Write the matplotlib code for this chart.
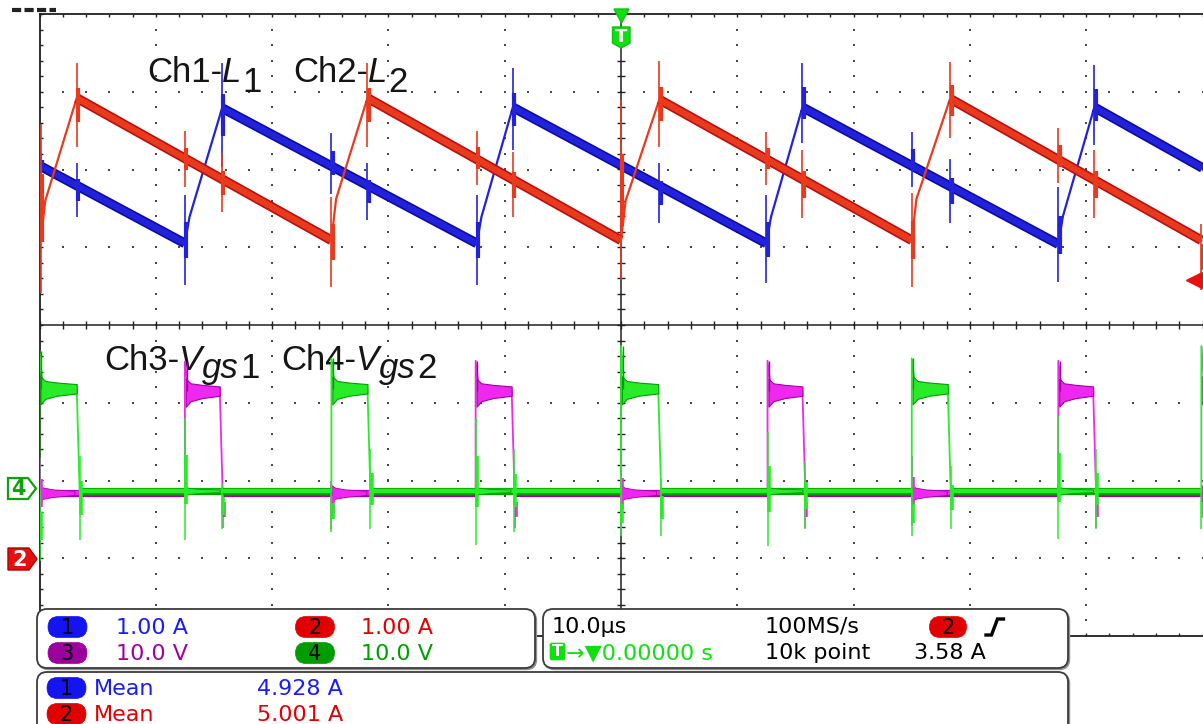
import numpy as np
import matplotlib
matplotlib.use("Agg")
import matplotlib.pyplot as plt
from matplotlib.patches import FancyBboxPatch, Polygon

# ---------------- data ----------------
# time base: 10 us/div, 10 divisions, trigger (t = 0) at screen centre
# Ch1 : inductor L1 current (A), 1.00 A/div
ch1_start = (-50.0, 5.05)
ch1_end = (50.0, 5.02)
ch1_valley_t = [-37.5, -12.4, 12.5, 37.6]
ch1_valley_i = [4.05, 4.05, 4.05, 4.04]
ch1_ring_i = [4.39, 4.39, 4.39, 4.40]
ch1_peak_t = [-34.3, -9.3, 15.6, 40.7]
ch1_peak_i = [5.79, 5.80, 5.80, 5.80]

# Ch2 : inductor L2 current (A), 1.00 A/div
ch2_valley_t = [-49.9, -24.9, 0.0, 25.0, 49.9]
ch2_valley_i = [4.09, 4.09, 4.09, 4.09, 4.09]
ch2_ring_i = [4.60, 4.62, 4.60, 4.62]
ch2_peak_t = [-46.8, -21.8, 3.3, 28.3]
ch2_peak_i = [5.92, 5.92, 5.90, 5.91]

# switching spikes on the current traces: (time, low, high) in A
ch1_spikes = [(-37.5, 3.51, 4.67), (-12.4, 3.52, 4.67), (12.5, 3.54, 4.67), (37.6, 3.55, 4.77),
              (-34.3, 5.03, 6.37), (-9.3, 5.25, 6.30), (15.6, 5.34, 6.37), (40.7, 5.31, 6.34),
              (-49.9, 4.90, 5.21), (-24.9, 4.69, 5.47), (0.0, 4.89, 5.20), (25.0, 4.77, 5.48),
              (-46.8, 4.39, 5.09), (-21.8, 4.35, 5.08), (3.3, 4.31, 5.08), (28.3, 4.31, 5.14)]
ch2_spikes = [(-49.9, 3.41, 5.59), (-24.9, 3.49, 4.64), (0.0, 3.58, 5.90), (25.0, 3.49, 4.70), (49.9, 3.45, 4.30),
              (-46.8, 5.29, 6.37), (-21.8, 5.29, 6.37), (3.3, 5.29, 6.40), (28.3, 5.40, 6.38),
              (-37.5, 4.77, 5.50), (-12.4, 4.80, 5.50), (12.5, 4.80, 5.48), (37.6, 4.82, 5.53),
              (-34.3, 4.45, 5.21), (-9.3, 4.39, 5.22), (15.6, 4.37, 5.25), (40.7, 4.37, 5.25)]

# Ch3 : Vgs1 (V), Ch4 : Vgs2 (V), 10.0 V/div
ch3_on_t = [-37.5, -12.5, 12.6, 37.6]
ch3_off_t = [-34.5, -9.4, 15.6, 40.6]
ch3_peak_v = [16.6, 16.7, 16.7, 16.7]
ch3_high_v = 12.8
ch4_on_t = [-50.0, -24.9, 0.0, 25.0, 49.9]
ch4_off_t = [-46.8, -21.8, 3.2, 28.1, 53.0]
ch4_peak_v = [18.0, 17.0, 18.6, 17.0, 18.6]
ch4_high_v = 13.1

# spikes on the gate traces: (time, low, high) in V
ch4_spikes = [(-50.0, -9.0, 0.0), (-24.9, -5.3, 0.0), (0.0, -5.9, 0.0), (25.0, -5.9, 0.0), (49.9, -5.0, 0.0),
              (-46.55, -6.4, 4.5), (-21.55, -4.9, 5.4), (3.45, -5.9, 1.5), (28.35, -4.9, 3.2),
              (-37.5, -6.4, 9.3), (-12.5, -7.0, 9.3), (12.6, -7.1, 7.6), (37.6, -6.2, 9.6),
              (-34.3, -4.9, 0.9), (-9.2, -5.3, 5.4), (15.8, -4.9, 3.7), (40.8, -4.9, 5.4)]
ch3_spikes = [(-50.0, -4.8, 4.2), (-24.9, -4.9, 1.2), (0.0, -5.3, 4.5), (25.0, -4.6, 4.5),
              (-34.25, -4.8, 0.0), (-9.15, -4.8, 0.0), (15.85, -4.8, 0.0), (40.85, -4.8, 0.0)]

# vertical positions (divisions from centre) and scales
ch12_offset_div, amp_per_div = -3.0, 1.0
ch34_offset_div, volt_per_div = -2.13, 10.0
ch2_trigger_level = 3.58

# read-out texts
scale_rows = [("1", "1.00 A", "2", "1.00 A"), ("3", "10.0 V", "4", "10.0 V")]
mean_rows = [("1", "Mean", "4.928 A"), ("2", "Mean", "5.001 A")]
timebase = ("10.0\u00b5s", "100MS/s", "\u2192\u25bc0.00000 s", "10k point", "3.58 A")

# ---------------- colours ----------------
BLUE, BLUE_D = "#2222dc", "#0c0ca0"
RED, RED_D = "#ea3a1e", "#b81010"
MAG, MAG_D = "#ee28ee", "#a400a4"
GRN, GRN_D = "#28ec28", "#00a000"

W, H = 1203, 724
fig = plt.figure(figsize=(W / 100, H / 100), dpi=100)
fig.patch.set_facecolor("white")

gl, gr, gt, gb = 39.5, 1202.5, 14.0, 636.0
rect = [gl / W, (H - gb) / H, (gr - gl) / W, (gb - gt) / H]

# ---------------- graticule ----------------
ax_g = fig.add_axes(rect, zorder=1)
ax_g.set_xlim(-50, 50)
ax_g.set_ylim(-4, 4)
ax_g.axis("off")
dot = dict(s=2.6, marker="s", color="#4a4a4a", linewidths=0)
ys_minor = np.arange(-4, 4.001, 0.2)
xs_minor = np.arange(-50, 50.001, 2.0)
for xm in range(-40, 41, 10):
    if xm != 0:
        ax_g.scatter(np.full_like(ys_minor, xm), ys_minor, **dot)
for ym in range(-3, 4):
    if ym != 0:
        ax_g.scatter(xs_minor, np.full_like(xs_minor, ym), **dot)
lc = "#202020"
ax_g.plot([-50, 50], [0, 0], color=lc, lw=1.1)
ax_g.plot([0, 0], [-4, 4], color=lc, lw=1.1)
ax_g.vlines(xs_minor, -0.055, 0.055, color=lc, lw=1.0)
ax_g.hlines(ys_minor, -0.35, 0.35, color=lc, lw=1.0)
ax_g.plot([-50, 50], [4, 4], color=lc, lw=1.3, clip_on=False)
ax_g.plot([-50, 50], [-4, -4], color=lc, lw=1.3, clip_on=False)
ax_g.plot([-50, -50], [-4, 4], color=lc, lw=1.3, clip_on=False)
ax_g.vlines(xs_minor, 3.955, 4.0, color=lc, lw=1.0)
ax_g.vlines(xs_minor, -4.0, -3.955, color=lc, lw=1.0)
ax_g.hlines(ys_minor, -50, -49.7, color=lc, lw=1.0)

# ---------------- channel labels (under traces) ----------------
ax_t = fig.add_axes([0, 0, 1, 1], zorder=1.5)
ax_t.set_xlim(0, W)
ax_t.set_ylim(H, 0)
ax_t.axis("off")
ax_t.patch.set_alpha(0)
rend = fig.canvas.get_renderer()


def chain(x, y, parts, size=25):
    for s, style, dy, dx in parts:
        x += dx
        t = ax_t.text(x, y + dy, s, fontsize=size, family="Liberation Sans", style=style,
                      ha="left", va="baseline", color="#151515")
        x += t.get_window_extent(renderer=rend).width


chain(147, 82, [("Ch1-", "normal", 0, 0), ("L", "italic", 0, 0), ("1", "normal", 10, 1)])
chain(293, 82, [("Ch2-", "normal", 0, 0), ("L", "italic", 0, 0), ("2", "normal", 10, 1)])
chain(104, 370, [("Ch3-", "normal", 0, 0), ("V", "italic", 0, 0), ("gs", "italic", 8, 0), ("1", "normal", 8, 1)])
chain(281, 370, [("Ch4-", "normal", 0, 0), ("V", "italic", 0, 0), ("gs", "italic", 8, 0), ("2", "normal", 8, 1)])

# ---------------- gate voltages ----------------
ax_v = fig.add_axes(rect, zorder=3)
ax_v.set_xlim(-50, 50)
ax_v.set_ylim((-4 - ch34_offset_div) * volt_per_div, (4 - ch34_offset_div) * volt_per_div)
ax_v.axis("off")
ax_v.patch.set_alpha(0)


def gate(on_t, off_t, peak_v, high_v, spikes, other_on, ring_amp, col, dcol, low_shift, z):
    # low-level band between pulses
    starts = [-50.0] + [o + 0.25 for o in off_t]
    ends = list(on_t) + [50.0]
    for a, b in zip(starts, ends):
        if b > a:
            ax_v.plot([a, b], [low_shift, low_shift], color=dcol, lw=5.2, solid_capstyle="butt", zorder=z)
            ax_v.plot([a, b], [low_shift, low_shift], color=col, lw=3.2, solid_capstyle="butt", zorder=z)
    # ringing on the low level after the other gate switches on
    for t0 in other_on:
        tt = [t0, t0 + 0.3, t0 + 1.2, t0 + 3.0]
        up = [1.2 * ring_amp, 0.8 * ring_amp, 0.5 * ring_amp, 0.3 * ring_amp]
        lo = [-1.4 * ring_amp, -1.0 * ring_amp, -0.7 * ring_amp, -0.4 * ring_amp]
        ax_v.fill_between(tt, [low_shift + u for u in up], [low_shift + l for l in lo],
                          color=col, ec=dcol, lw=0.6, zorder=z)
    # pulses
    for on, off, pk in zip(on_t, off_t, peak_v):
        ax_v.plot([on, on, on + 0.25, on + 0.6, off, off + 0.25],
                  [low_shift, pk, high_v + 0.8, high_v, high_v, low_shift],
                  color=col, lw=1.3, zorder=z)
        tt = [on + 0.08, on + 0.5, on + 1.5, off]
        up = [high_v + 1.6, high_v + 1.0, high_v + 0.8, high_v + 0.6]
        lo = [high_v - 2.0, high_v - 1.3, high_v - 0.9, high_v - 0.6]
        ax_v.fill_between(tt, up, lo, color=col, ec=dcol, lw=0.8, zorder=z)
        ax_v.vlines([on + 0.15], high_v, pk, color=dcol, lw=1.0, zorder=z)
    for t, lo_v, hi_v in spikes:
        ax_v.vlines([t], lo_v, hi_v, color=col, lw=1.1, zorder=z)
        m = 0.3 * (hi_v - lo_v)
        ax_v.vlines([t + 0.1], lo_v + m, hi_v - m, color=col, lw=2.6, zorder=z)


gate(ch3_on_t, ch3_off_t, ch3_peak_v, ch3_high_v, ch3_spikes, ch4_on_t, 0.8, MAG, MAG_D, -0.25, 3)
gate(ch4_on_t, ch4_off_t, ch4_peak_v, ch4_high_v, ch4_spikes, ch3_on_t, 0.45, GRN, GRN_D, 0.0, 4)

# ---------------- inductor currents ----------------
ax_i = fig.add_axes(rect, zorder=4)
ax_i.set_xlim(-50, 50)
ax_i.set_ylim((-4 - ch12_offset_div) * amp_per_div, (4 - ch12_offset_div) * amp_per_div)
ax_i.axis("off")
ax_i.patch.set_alpha(0)


def current(pts_t, pts_i, fall_pairs, spikes, col, dcol, z):
    ax_i.plot(pts_t, pts_i, color=col, lw=1.6, zorder=z)
    for (ta, ia), (tb, ib) in fall_pairs:
        ax_i.plot([ta, tb], [ia, ib], color=dcol, lw=7.0, solid_capstyle="butt", zorder=z)
        ax_i.plot([ta, tb], [ia, ib], color=col, lw=4.6, solid_capstyle="butt", zorder=z)
    for t, lo_i, hi_i in spikes:
        ax_i.vlines([t], lo_i, hi_i, color=col, lw=1.2, zorder=z)
        m = 0.3 * (hi_i - lo_i)
        ax_i.vlines([t + 0.12], lo_i + m, hi_i - m, color=col, lw=3.0, zorder=z)


# Ch1 polyline
c1_t, c1_i = [ch1_start[0]], [ch1_start[1]]
falls1 = []
prev = ch1_start
for vt, vi, ri, pt, pi in zip(ch1_valley_t, ch1_valley_i, ch1_ring_i, ch1_peak_t, ch1_peak_i):
    falls1.append((prev, (vt, vi)))
    c1_t += [vt, vt + 0.4, pt]
    c1_i += [vi, ri, pi]
    prev = (pt, pi)
falls1.append((prev, ch1_end))
c1_t.append(ch1_end[0])
c1_i.append(ch1_end[1])
current(c1_t, c1_i, falls1, ch1_spikes, BLUE, BLUE_D, 4)

# Ch2 polyline
c2_t, c2_i = [], []
falls2 = []
for k, (vt, vi) in enumerate(zip(ch2_valley_t, ch2_valley_i)):
    if k > 0:
        falls2.append(((ch2_peak_t[k - 1], ch2_peak_i[k - 1]), (vt, vi)))
    c2_t.append(vt)
    c2_i.append(vi)
    if k < len(ch2_peak_t):
        c2_t += [vt + 0.4, ch2_peak_t[k]]
        c2_i += [ch2_ring_i[k], ch2_peak_i[k]]
current(c2_t, c2_i, falls2, ch2_spikes, RED, RED_D, 5)

# Ch2 trigger level indicator on the right edge
ax_i.plot([49.3], [ch2_trigger_level], marker="<", ms=11, color="#e81010", clip_on=False, zorder=6)
ax_i.plot([49.5, 50.0], [ch2_trigger_level] * 2, color="#e81010", lw=2.0, clip_on=False, zorder=6)

# ---------------- overlay: markers and read-out panels ----------------
ov = fig.add_axes([0, 0, 1, 1], zorder=10)
ov.set_xlim(0, W)
ov.set_ylim(H, 0)
ov.axis("off")
ov.patch.set_alpha(0)

# top-left cropped fragment
ov.plot([12, 56], [9.5, 9.5], color="#222222", lw=3.0, linestyle=(0, (2.2, 0.8)))

# trigger position marker
ov.add_patch(Polygon([(614, 9), (629, 9), (621.5, 23)], closed=True, fc="#10e010", ec="#10c010", lw=1))
ov.add_patch(Polygon([(612.5, 27), (630, 27), (630, 43), (621.2, 48), (612.5, 43)], closed=True,
                     fc="#10e010", ec="#10c010", lw=1))
ov.text(621.3, 37, "T", color="white", fontsize=13, fontweight="bold", ha="center", va="center",
        family="DejaVu Sans")

# channel ground markers
ov.add_patch(Polygon([(8, 478), (28, 478), (36, 488.5), (28, 499), (8, 499)], closed=True,
                     fc="white", ec="#10a010", lw=1.6))
ov.text(18.5, 489, "4", color="#10a010", fontsize=15, fontweight="bold", ha="center", va="center",
        family="DejaVu Sans")
ov.add_patch(Polygon([(8, 548), (29, 548), (37, 559), (29, 570), (8, 570)], closed=True,
                     fc="#e41010", ec="#b00000", lw=1.0))
ov.text(19.5, 559.5, "2", color="white", fontsize=15, fontweight="bold", ha="center", va="center",
        family="DejaVu Sans")


def panel(x0, y0, w, h):
    ov.add_patch(FancyBboxPatch((x0 + 1.5, y0 + 1.5), w, h, boxstyle="round,pad=0,rounding_size=10",
                                fc="#909090", ec="#909090", lw=1.0))
    ov.add_patch(FancyBboxPatch((x0, y0), w, h, boxstyle="round,pad=0,rounding_size=10",
                                fc="white", ec="#3c3c3c", lw=1.3))


def badge(cx, cy, txt, col, w=39, h=21):
    ov.add_patch(FancyBboxPatch((cx - w / 2, cy - h / 2), w, h,
                                boxstyle="round,pad=0,rounding_size=%g" % (h / 2), fc=col, ec=col, lw=0.5))
    ov.text(cx, cy + 1, txt, color="black", fontsize=15, ha="center", va="center", family="DejaVu Sans")


panel(37, 609, 498, 59)
panel(543, 609, 525, 59)
panel(37, 672, 1031, 70)

fs = 16
pf = "DejaVu Sans"
row_y = [627, 653]
badge_cols = {"1": "#1414f0", "2": "#e00000", "3": "#9c009c", "4": "#009c00"}
text_cols = {"1": "#1a1aff", "2": "#e00000", "3": "#a000a0", "4": "#00a000"}
for (b1, s1, b2, s2), y in zip(scale_rows, row_y):
    badge(67.5, y, b1, badge_cols[b1])
    ov.text(116, y + 1, s1, color=text_cols[b1], fontsize=fs, ha="left", va="center", family=pf)
    badge(315, y, b2, badge_cols[b2])
    ov.text(361, y + 1, s2, color=text_cols[b2], fontsize=fs, ha="left", va="center", family=pf)

# time base panel
ov.text(552, 627, timebase[0], color="black", fontsize=fs, ha="left", va="center", family=pf)
ov.text(765, 627, timebase[1], color="black", fontsize=fs, ha="left", va="center", family=pf)
badge(948, 627, "2", "#e00000", w=37)
ov.plot([986, 991.5, 997.5, 1003.5], [635, 635, 619, 619], color="black", lw=2.4,
        solid_joinstyle="miter")
ov.add_patch(FancyBboxPatch((550, 643), 15, 17, boxstyle="round,pad=0,rounding_size=2",
                            fc="#10e010", ec="#10e010", lw=0.5))
ov.text(557.5, 652, "T", color="white", fontsize=11.5, fontweight="bold", ha="center", va="center",
        family=pf)
ov.text(566, 653, timebase[2], color="#10e010", fontsize=fs, ha="left", va="center", family=pf)
ov.text(765, 653, timebase[3], color="black", fontsize=fs, ha="left", va="center", family=pf)
ov.text(914, 653, timebase[4], color="black", fontsize=fs, ha="left", va="center", family=pf)

# measurement panel
for (b, lab, val), y in zip(mean_rows, [688, 714]):
    badge(66.5, y, b, badge_cols[b])
    ov.text(94, y + 1, lab, color=text_cols[b], fontsize=fs, ha="left", va="center", family=pf)
    ov.text(257, y + 1, val, color=text_cols[b], fontsize=fs, ha="left", va="center", family=pf)

fig.savefig("out.png", dpi=100, facecolor="white")
